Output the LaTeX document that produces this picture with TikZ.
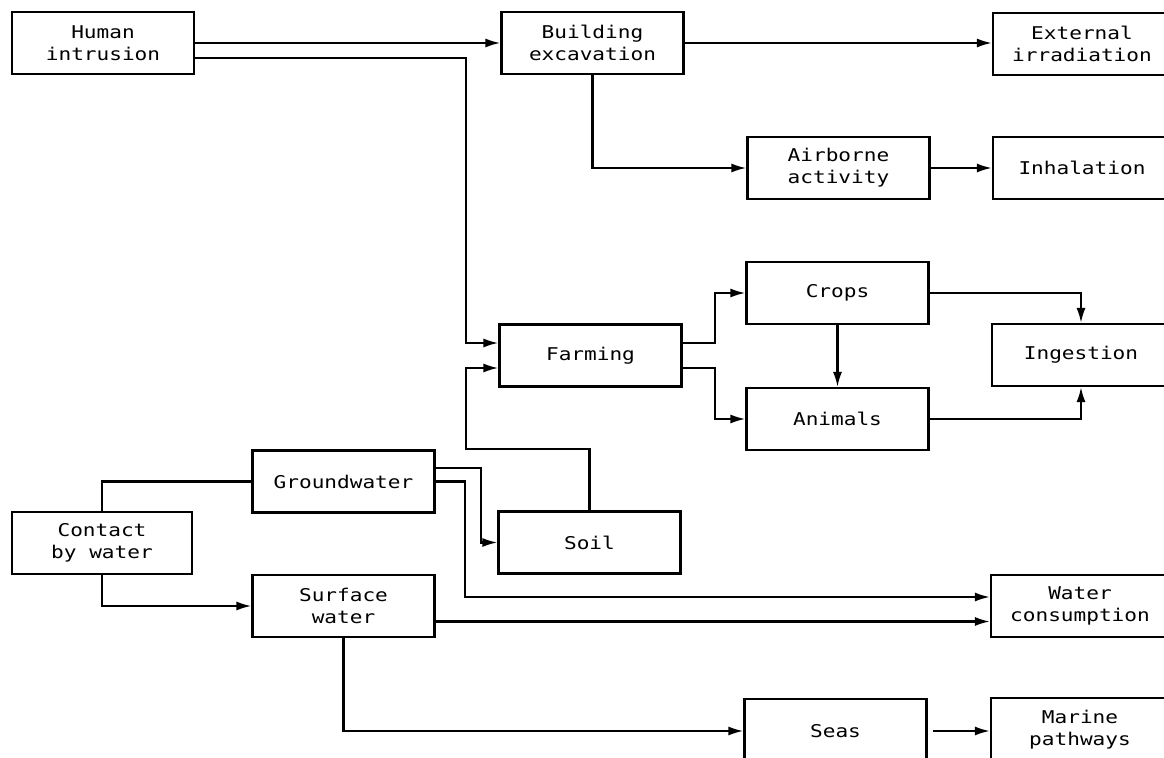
\documentclass[tikz,border=0pt]{standalone}
\usepackage{fontspec}
\newfontfamily\plotfont[FakeStretch=1.2]{DejaVu Sans Mono}
\usepackage{tikz}
\usetikzlibrary{positioning, arrows.meta}

\begin{document}
\begin{tikzpicture}[
  stage/.style={draw, line width=1.2pt, minimum width=3.64cm, minimum height=1.24cm,
                align=center, font=\plotfont\fontsize{10}{12.5}\selectfont},
  sink/.style={stage, minimum width=3.56cm},
  arrow/.style={-{Latex[length=3mm, width=1.8mm]}, line width=1.2pt},
  link/.style={line width=1.2pt}
]
\useasboundingbox (0,0) rectangle (23.28,-15.16);
\clip (0,0) rectangle (23.28,-15.16);

% sources and intermediate stages
\node[stage] (hum) at (2.06,-0.86)   {Human\\intrusion};
\node[stage] (bex) at (11.85,-0.86)  {Building\\excavation};
\node[stage] (air) at (16.77,-3.36)  {Airborne\\activity};
\node[stage] (crp) at (16.75,-5.86)  {Crops};
\node[stage] (frm) at (11.81,-7.11)  {Farming};
\node[stage] (ani) at (16.75,-8.38)  {Animals};
\node[stage] (gnd) at (6.87,-9.63)   {Groundwater};
\node[stage] (soi) at (11.79,-10.85) {Soil};
\node[stage, minimum width=3.6cm] (con) at (2.04,-10.86) {Contact\\by water};
\node[stage] (sur) at (6.87,-12.12)  {Surface\\water};
\node[stage, minimum height=1.28cm] (sea) at (16.71,-14.62) {Seas};

% exposure pathways (right column, cut by the page edge)
\node[sink] (ext) at (21.64,-0.88)  {External\\irradiation};
\node[sink] (inh) at (21.64,-3.36)  {Inhalation};
\node[sink] (ing) at (21.62,-7.10)  {Ingestion};
\node[sink] (wat) at (21.60,-12.12) {Water\\consumption};
\node[sink, minimum height=1.28cm] (mar) at (21.60,-14.60) {Marine\\pathways};

\draw[arrow] (hum.east) -- (bex.west);
\draw[arrow] ([yshift=-3mm]hum.east) -| (9.32,-6.86) -- ([yshift=2.5mm]frm.west);
\draw[arrow] (bex.east) -- (bex.east -| ext.west);
\draw[arrow] (bex.south) |- (air.west);
\draw[arrow] (air.east) -- (inh.west);

\draw[arrow] ([yshift=2.5mm]frm.east) -- ++(0.64,0) |- (crp.west);
\draw[arrow] ([yshift=-2.5mm]frm.east) -- ++(0.64,0) |- (ani.west);
\draw[arrow] (crp.south) -- (ani.north);
\draw[arrow] (crp.east) -| (ing.north);
\draw[arrow] (ani.east) -| (ing.south);

\draw[link]  (con.north) |- (gnd.west);
\draw[arrow] (con.south) |- (sur.west);
\draw[arrow] ([yshift=2.7mm]gnd.east) -- ++(0.9,0) |- (soi.west);
\draw[arrow] (gnd.east) -- ++(0.58,0) |- ([yshift=1.8mm]wat.west);
\draw[arrow] (soi.north) |- (9.32,-8.98) |- ([yshift=-2.5mm]frm.west);
\draw[arrow] ([yshift=-3.1mm]sur.east) -- ([yshift=-3.1mm]wat.west);
\draw[arrow] (sur.south) |- (sea.west);
\draw[arrow] ([xshift=1mm]sea.east) -- (sea.east -| mar.west);
\end{tikzpicture}
\end{document}
